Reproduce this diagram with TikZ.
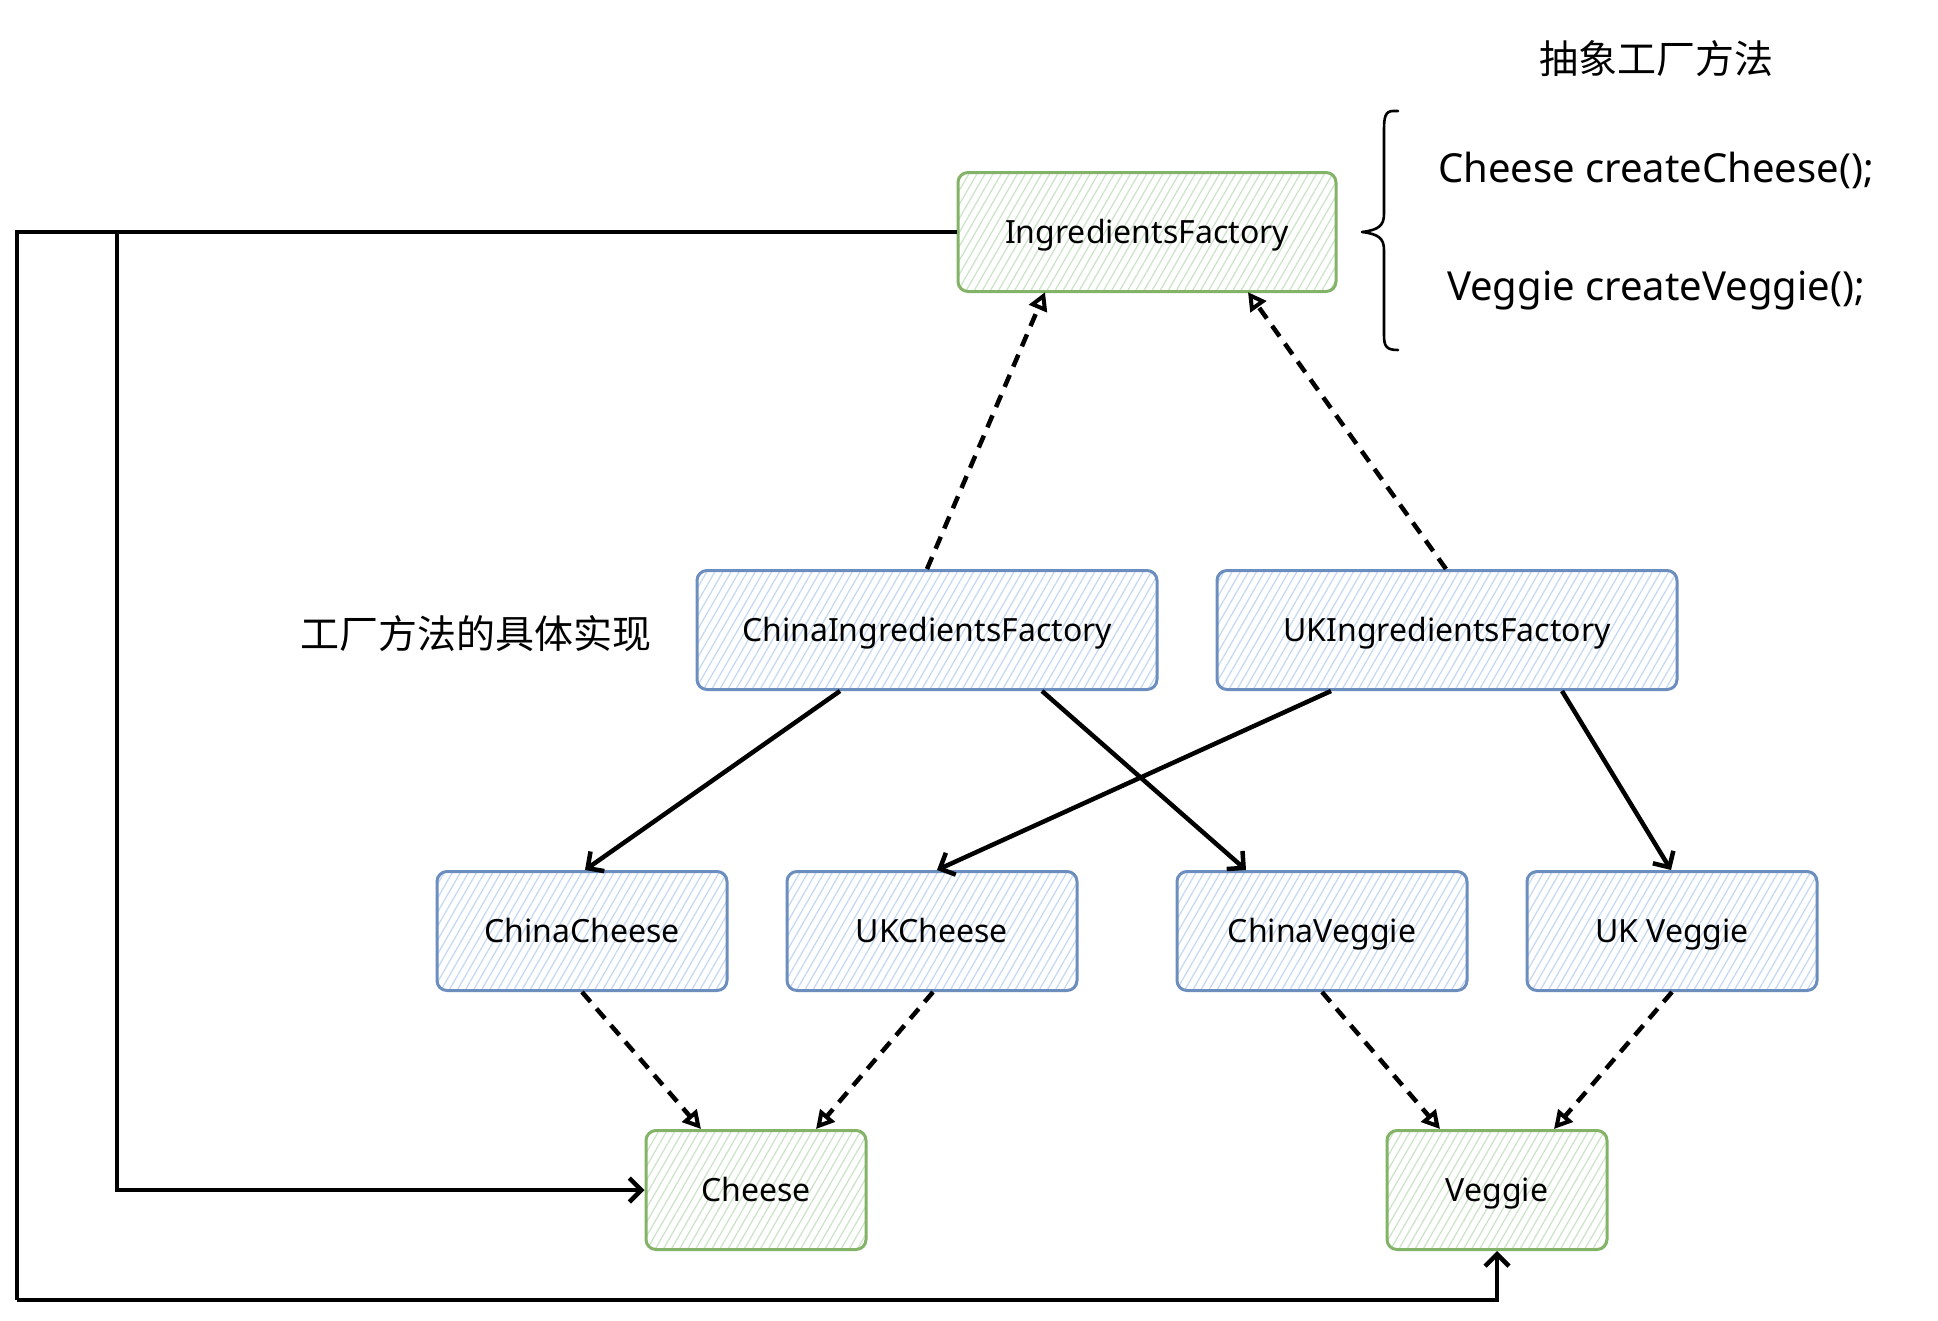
\documentclass[tikz,border=0pt]{standalone}
\usepackage{fontspec}
\setmainfont{Noto Sans}
\newfontfamily\cjk{Noto Sans CJK SC}
\usetikzlibrary{arrows.meta,patterns.meta}
\definecolor{bluehatch}{HTML}{C6D9F3}
\definecolor{bluestroke}{HTML}{6C8EBF}
\definecolor{greenhatch}{HTML}{CCE4C8}
\definecolor{greenstroke}{HTML}{82B366}
\tikzset{
  box/.style={rectangle, rounded corners=10pt, inner sep=0pt, line width=3pt,
    minimum width=290pt, minimum height=119pt, text height=26pt, text depth=3.2pt,
    font=\fontsize{32}{38}\selectfont},
  bluebox/.style={box, draw=bluestroke, pattern={Lines[angle=60,distance=7pt,line width=1.3pt]}, pattern color=bluehatch},
  greenbox/.style={box, draw=greenstroke, pattern={Lines[angle=60,distance=7pt,line width=1.3pt]}, pattern color=greenhatch},
  solidarr/.style={line width=4.5pt, -{Straight Barb[length=12pt,width=24pt,line width=4.5pt]}},
  plainline/.style={line width=4.5pt},
  dasharr/.style={line width=4.5pt, dash pattern=on 13pt off 9pt, -{Triangle[open,length=18pt,width=19pt,line width=4pt]}},
  bigtext/.style={inner sep=0pt, font=\fontsize{40}{48}\selectfont},
  cjktext/.style={inner sep=0pt, font=\cjk\fontsize{39}{47}\selectfont}
}
\begin{document}
\begin{tikzpicture}[x=1pt,y=-1pt]
\useasboundingbox (0,0) rectangle (1938,1320);

% nodes
\node[greenbox, minimum width=378pt] (IF) at (1147,232) {IngredientsFactory};
\node[bluebox, minimum width=460pt] (CIF) at (927,630) {ChinaIngredientsFactory};
\node[bluebox, minimum width=460pt] (UIF) at (1447,630) {UKIngredientsFactory};
\node[bluebox] (CC) at (582,931) {ChinaCheese};
\node[bluebox] (UC) at (932,931) {UKCheese};
\node[bluebox] (CV) at (1322,931) {ChinaVeggie};
\node[bluebox] (UV) at (1672,931) {UK Veggie};
\node[greenbox, minimum width=220pt] (Ch) at (756,1190) {Cheese};
\node[greenbox, minimum width=220pt] (Vg) at (1497,1190) {Veggie};

% texts
\node[cjktext] (t1) at (1656,59) {抽象工厂方法};
\node[bigtext] (t2) at (1656,170) {Cheese createCheese();};
\node[bigtext] (t3) at (1656,291) {Veggie createVeggie();};
\node[cjktext] (t4) at (476,634) {工厂方法的具体实现};

% brace
\draw[line width=2.6pt, line cap=round, line join=round]
  (1398,111) -- (1393,111) .. controls (1385,111) and (1384,118) .. (1384,130)
  -- (1384,214) .. controls (1384,226) and (1378,230) .. (1362,232)
  .. controls (1378,234) and (1384,238) .. (1384,250)
  -- (1384,335) .. controls (1384,346) and (1386,350) .. (1398,350);

% dashed realisation arrows
\draw[dasharr] ([xshift=0pt]CIF.north) -- ([xshift=-102pt]IF.south);
\draw[dasharr] ([xshift=-1pt]UIF.north) -- ([xshift=101pt]IF.south);
\draw[dasharr] (CC.south) -- ([xshift=-55pt]Ch.north);
\draw[dasharr] ([xshift=1pt]UC.south) -- ([xshift=60pt]Ch.north);
\draw[dasharr] (CV.south) -- ([xshift=-57pt]Vg.north);
\draw[dasharr] (UV.south) -- ([xshift=57pt]Vg.north);

% solid creation arrows
\draw[solidarr] ([xshift=-87pt]CIF.south) -- ([xshift=3pt]CC.north);
\draw[solidarr] ([xshift=115pt]CIF.south) -- ([xshift=-76pt]CV.north);
\draw[solidarr] ([xshift=-116pt]UIF.south) -- ([xshift=5pt]UC.north);
\draw[solidarr] ([xshift=115pt]UIF.south) -- ([xshift=-1pt]UV.north);

% long connectors
\coordinate (j) at (117,232);
\coordinate (corner) at (17,1300);
\draw[plainline, line join=miter] (IF.west) -| (corner);
\draw[solidarr] (corner) -| (Vg.south);
\draw[solidarr] (j) |- (Ch.west);
\end{tikzpicture}
\end{document}
